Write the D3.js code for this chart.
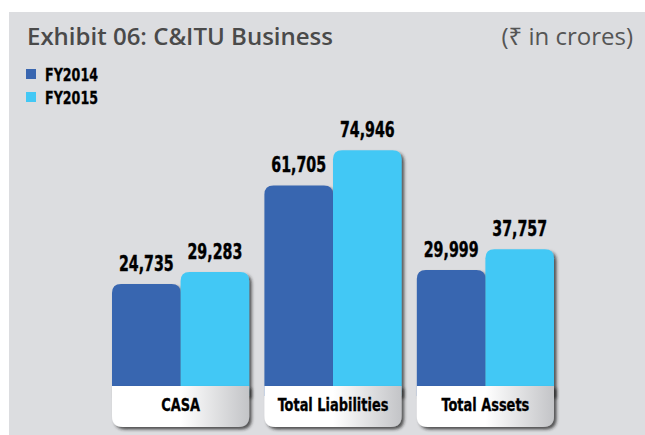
<!DOCTYPE html>
<html>
<head>
<meta charset="utf-8">
<script src="https://cdn.jsdelivr.net/npm/d3@7"></script>
<style>
  body { margin: 0; background: #fff; }
  svg { display: block; }
</style>
</head>
<body>
<script>
var categories = ["CASA", "Total Liabilities", "Total Assets"];
var seriesNames = ["FY2014", "FY2015"];
var fy2014 = [24735, 61705, 29999];
var fy2015 = [29283, 74946, 37757];
var seriesColors = ["#3966b0", "#43c8f5"];

var width = 645, height = 435;
var bandTop = 386, bandBottom = 427;
var condFont = "'DejaVu Sans Condensed', 'DejaVu Sans', sans-serif";

var rows = categories.map(function (c, i) {
    return { cat: c, values: [fy2014[i], fy2015[i]] };
});

var svg = d3.select("body").append("svg")
    .attr("width", width)
    .attr("height", height);

var defs = svg.append("defs");

var shadow = defs.append("filter").attr("id", "shadow")
    .attr("x", "-20%").attr("y", "-20%").attr("width", "150%").attr("height", "150%");
shadow.append("feDropShadow")
    .attr("dx", 2.5).attr("dy", 2.5).attr("stdDeviation", 1.6)
    .attr("flood-color", "#222").attr("flood-opacity", 0.75);

var grad = defs.append("linearGradient").attr("id", "bandGrad")
    .attr("x1", "0%").attr("x2", "100%").attr("y1", "0%").attr("y2", "0%");
grad.append("stop").attr("offset", "0%").attr("stop-color", "#ffffff");
grad.append("stop").attr("offset", "50%").attr("stop-color", "#ffffff");
grad.append("stop").attr("offset", "100%").attr("stop-color", "#c3c4c7");

// grey panel
svg.append("rect")
    .attr("x", 9).attr("y", 12)
    .attr("width", width - 9).attr("height", height - 12)
    .attr("fill", "#dcdde0");

svg.append("text")
    .attr("x", 27).attr("y", 45)
    .style("font-family", "'Open Sans', sans-serif")
    .style("font-size", "24px")
    .style("font-weight", 600)
    .attr("fill", "#4a4a4a")
    .text("Exhibit 06: C&ITU Business");

svg.append("text")
    .attr("x", 633).attr("y", 45)
    .attr("text-anchor", "end")
    .style("font-family", "'Open Sans', 'Noto Sans', sans-serif")
    .style("font-size", "24px")
    .attr("fill", "#555")
    .text("(\u20B9 in crores)");

// legend
var legend = svg.selectAll(".legend").data(seriesNames).enter().append("g")
    .attr("class", "legend")
    .attr("transform", function (d, i) { return "translate(26," + (69 + i * 23) + ")"; });
legend.append("rect")
    .attr("width", 10).attr("height", 10)
    .attr("fill", function (d, i) { return seriesColors[i]; });
legend.append("text")
    .attr("transform", "translate(19,11.5) scale(0.76,1)")
    .style("font-family", condFont)
    .style("font-size", "18.5px")
    .style("font-weight", "bold")
    .attr("fill", "#000")
    .attr("stroke", "#000").attr("stroke-width", 0.3)
    .text(function (d) { return d; });

var x0 = d3.scaleBand().domain(categories).range([112, 554]).paddingInner(0.1);
var x1 = d3.scaleBand().domain([0, 1]).range([0, x0.bandwidth()]);
var y = d3.scaleLinear().domain([0, 75000]).range([350, 150]);

function topRounded(x, yTop, w, yBot, r) {
    return "M" + x + "," + yBot +
        "V" + (yTop + r) +
        "Q" + x + "," + yTop + " " + (x + r) + "," + yTop +
        "H" + (x + w - r) +
        "Q" + (x + w) + "," + yTop + " " + (x + w) + "," + (yTop + r) +
        "V" + yBot + "Z";
}
function bottomRounded(x, yTop, w, yBot, r) {
    return "M" + x + "," + yTop +
        "H" + (x + w) +
        "V" + (yBot - r) +
        "Q" + (x + w) + "," + yBot + " " + (x + w - r) + "," + yBot +
        "H" + (x + r) +
        "Q" + x + "," + yBot + " " + x + "," + (yBot - r) + "Z";
}

var groups = svg.selectAll(".grp").data(rows).enter().append("g")
    .attr("class", "grp")
    .attr("transform", function (d) { return "translate(" + x0(d.cat) + ",0)"; });

groups.selectAll(".bar")
    .data(function (d) { return d.values.map(function (v, i) { return { v: v, i: i }; }); })
    .enter().append("path")
    .attr("class", "bar")
    .attr("d", function (d) { return topRounded(x1(d.i), y(d.v), x1.bandwidth(), bandTop + 10, 9); })
    .attr("fill", function (d) { return seriesColors[d.i]; })
    .attr("filter", "url(#shadow)");

groups.append("path")
    .attr("d", bottomRounded(0, bandTop, x0.bandwidth(), bandBottom, 11))
    .attr("fill", "url(#bandGrad)")
    .attr("filter", "url(#shadow)");

groups.append("text")
    .attr("transform", "translate(" + (x0.bandwidth() / 2) + ",411) scale(0.8,1)")
    .attr("text-anchor", "middle")
    .style("font-family", condFont)
    .style("font-size", "18px")
    .style("font-weight", "bold")
    .attr("fill", "#000")
    .attr("stroke", "#000").attr("stroke-width", 0.3)
    .text(function (d) { return d.cat; });

groups.selectAll(".val")
    .data(function (d) { return d.values.map(function (v, i) { return { v: v, i: i }; }); })
    .enter().append("text")
    .attr("class", "val")
    .attr("transform", function (d) {
        return "translate(" + (x1(d.i) + x1.bandwidth() / 2) + "," + (y(d.v) - 13) + ") scale(0.77,1)";
    })
    .attr("text-anchor", "middle")
    .style("font-family", condFont)
    .style("font-size", "20.5px")
    .style("font-weight", "bold")
    .attr("fill", "#000")
    .attr("stroke", "#000").attr("stroke-width", 0.4)
    .text(function (d) { return d3.format(",")(d.v); });
</script>
</body>
</html>
